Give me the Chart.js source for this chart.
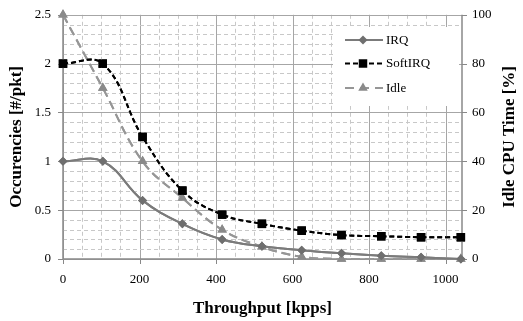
<!DOCTYPE html>
<html>
<head>
<meta charset="utf-8">
<script src="https://cdn.jsdelivr.net/npm/chart.js@4"></script>
<style>
  html, body { margin: 0; padding: 0; background: #fff; }
</style>
</head>
<body>
<canvas id="chart" width="523" height="321"></canvas>
<script>
// values
const throughput = [0, 104, 208, 312, 416, 520, 624, 728, 832, 936, 1040];
const irq = [1.0, 1.0, 0.6, 0.36, 0.2, 0.13, 0.09, 0.058, 0.034, 0.017, 0.0];
const softIrq = [2.0, 2.0, 1.25, 0.7, 0.455, 0.36, 0.29, 0.245, 0.233, 0.223, 0.223];
const idle = [100, 70, 40, 25, 12, 5, 0.9, 0, 0, 0, 0];

const xTicks = [0, 200, 400, 600, 800, 1000];
const leftTicks = [0, 0.5, 1, 1.5, 2, 2.5];
const rightTicks = [0, 20, 40, 60, 80, 100];

const SERIF = "'Liberation Serif', 'Times New Roman', serif";
const MAJOR = "#a6a6a6";
const MINOR = "#c8c8c8";
const AXIS = "#888888";

function pts(ys) {
    return throughput.map((x, i) => ({ x: x, y: ys[i] }));
}

function isMajor(list, v) {
    return list.some(t => Math.abs(t - v) < 1e-6);
}

// major ticks plus the minor steps between them
function minorTicks(list, parts) {
    const out = [];
    for (let i = 0; i < list.length; i++) {
        out.push({ value: list[i] });
        if (i < list.length - 1) {
            const step = (list[i + 1] - list[i]) / parts;
            for (let k = 1; k < parts; k++) out.push({ value: list[i] + k * step });
        }
    }
    return out;
}

function line(ctx, x1, y1, x2, y2, color, width, dash) {
    ctx.save();
    ctx.strokeStyle = color;
    ctx.lineWidth = width;
    ctx.setLineDash(dash);
    ctx.beginPath();
    ctx.moveTo(x1, y1);
    ctx.lineTo(x2, y2);
    ctx.stroke();
    ctx.restore();
}

// grid, axis lines and tick marks from the scales, then the datasets again on top
const gridPlugin = {
    id: "gridPlugin",
    afterDraw(chart) {
        const ctx = chart.ctx;
        const a = chart.chartArea;
        const sx = chart.scales.x, sy = chart.scales.y, sy1 = chart.scales.y1;

        ctx.save();
        sx.ticks.forEach(t => {
            const px = Math.round(sx.getPixelForValue(t.value)) + 0.5;
            if (px > a.right - 1) return;
            const major = isMajor(xTicks, t.value);
            line(ctx, px, a.top, px, a.bottom, major ? MAJOR : MINOR, 1, major ? [] : [4, 3]);
            if (major) line(ctx, px, a.bottom, px, a.bottom + 5, AXIS, 1, []);
        });
        sy.ticks.forEach(t => {
            const py = Math.round(sy.getPixelForValue(t.value)) + 0.5;
            const major = isMajor(leftTicks, t.value);
            line(ctx, a.left, py, a.right, py, major ? MAJOR : MINOR, 1, major ? [] : [4, 3]);
            if (major) line(ctx, a.left - 5, py, a.left, py, AXIS, 1, []);
        });
        sy1.ticks.forEach(t => {
            const py = Math.round(sy1.getPixelForValue(t.value)) + 0.5;
            line(ctx, a.right, py, a.right + 5, py, AXIS, 1, []);
        });
        line(ctx, a.left, a.top, a.left, a.bottom, AXIS, 1.5, []);
        line(ctx, a.right, a.top, a.right, a.bottom, AXIS, 1.5, []);
        line(ctx, a.left, a.bottom, a.right, a.bottom, AXIS, 1.5, []);
        ctx.restore();

        for (let i = chart.data.datasets.length - 1; i >= 0; i--) {
            ctx.save();
            chart.getDatasetMeta(i).controller.draw();
            ctx.restore();
        }
    }
};

// right axis title reads bottom-to-top, and the legend shows line samples
const extras = {
    id: "extras",
    afterDraw(chart) {
        const ctx = chart.ctx;
        const area = chart.chartArea;

        ctx.save();
        ctx.font = "bold 17px " + SERIF;
        ctx.fillStyle = "#000";
        ctx.textAlign = "center";
        ctx.textBaseline = "middle";
        ctx.translate(510, (area.top + area.bottom) / 2);
        ctx.rotate(-Math.PI / 2);
        ctx.fillText("Idle CPU Time [%]", 0, 0);
        ctx.restore();

        ctx.save();
        ctx.fillStyle = "#fff";
        ctx.fillRect(333, 27, 126, 79);
        const rows = [40, 63.5, 88];
        chart.data.datasets.forEach((ds, i) => {
            const y = rows[i];
            line(ctx, 345, y, 383, y, ds.borderColor, ds.borderWidth, ds.legendDash || []);
            ctx.fillStyle = ds.pointBackgroundColor;
            Chart.helpers.drawPoint(ctx, {
                pointStyle: ds.pointStyle,
                rotation: 0,
                radius: ds.pointRadius,
                borderWidth: 0
            }, 363, y);
            ctx.fillStyle = "#000";
            ctx.font = "13px " + SERIF;
            ctx.textAlign = "left";
            ctx.textBaseline = "middle";
            ctx.fillText(ds.label, 386, y + 0.5);
        });
        ctx.restore();
    }
};

const hidden = "rgba(0,0,0,0)";

new Chart(document.getElementById("chart"), {
    type: "line",
    data: {
        datasets: [
            {
                label: "IRQ", data: pts(irq), yAxisID: "y",
                borderColor: "#7b7b7b", borderWidth: 2,
                pointStyle: "rectRot", pointRadius: 4.5,
                pointBackgroundColor: "#6f6f6f", pointBorderWidth: 0,
                tension: 0.4, clip: false, legendDash: []
            },
            {
                label: "SoftIRQ", data: pts(softIrq), yAxisID: "y",
                borderColor: "#000000", borderWidth: 2, borderDash: [5, 3],
                pointStyle: "rect", pointRadius: 6,
                pointBackgroundColor: "#000000", pointBorderWidth: 0,
                tension: 0.4, clip: false, legendDash: [5, 3]
            },
            {
                label: "Idle", data: pts(idle), yAxisID: "y1",
                borderColor: "#969696", borderWidth: 2, borderDash: [9, 5],
                pointStyle: "triangle", pointRadius: 5.5,
                pointBackgroundColor: "#8a8a8a", pointBorderWidth: 0,
                tension: 0.4, clip: false, legendDash: [9, 6]
            }
        ]
    },
    options: {
        responsive: false,
        animation: false,
        events: [],
        layout: { padding: { top: 12, left: 0, right: 0, bottom: 0 } },
        plugins: { legend: { display: false }, tooltip: { enabled: false } },
        scales: {
            x: {
                type: "linear", min: 0, max: 1043,
                afterFit: s => { s.height = 62; },
                afterBuildTicks: s => { s.ticks = minorTicks(xTicks, 4); },
                ticks: {
                    autoSkip: false, maxRotation: 0, minRotation: 0, padding: 8, color: "#000",
                    font: { family: SERIF, size: 13 },
                    callback: v => isMajor(xTicks, v) ? String(v) : ""
                },
                grid: { color: hidden, tickColor: hidden, tickLength: 5 },
                border: { display: false },
                title: {
                    display: true, text: "Throughput [kpps]", color: "#000",
                    font: { family: SERIF, size: 17, weight: "bold" },
                    padding: { top: 4, bottom: 2 }
                }
            },
            y: {
                position: "left", min: 0, max: 2.5,
                afterFit: s => { s.width = 63; },
                afterBuildTicks: s => { s.ticks = minorTicks(leftTicks, 5); },
                ticks: {
                    autoSkip: false, padding: 7, color: "#000",
                    font: { family: SERIF, size: 13 },
                    callback: v => isMajor(leftTicks, v) ? String(Math.round(v * 10) / 10) : ""
                },
                grid: { color: hidden, tickColor: hidden, tickLength: 5 },
                border: { display: false },
                title: {
                    display: true, text: "Occurencies [#/pkt]", color: "#000",
                    font: { family: SERIF, size: 17, weight: "bold" },
                    padding: { top: 6, bottom: 4 }
                }
            },
            y1: {
                position: "right", min: 0, max: 100,
                afterFit: s => { s.width = 61; },
                afterBuildTicks: s => { s.ticks = rightTicks.map(v => ({ value: v })); },
                ticks: {
                    padding: 5, color: "#000",
                    font: { family: SERIF, size: 13 }
                },
                grid: { drawOnChartArea: false, tickColor: hidden, tickLength: 5 },
                border: { display: false }
            }
        }
    },
    plugins: [gridPlugin, extras]
});
</script>
</body>
</html>
